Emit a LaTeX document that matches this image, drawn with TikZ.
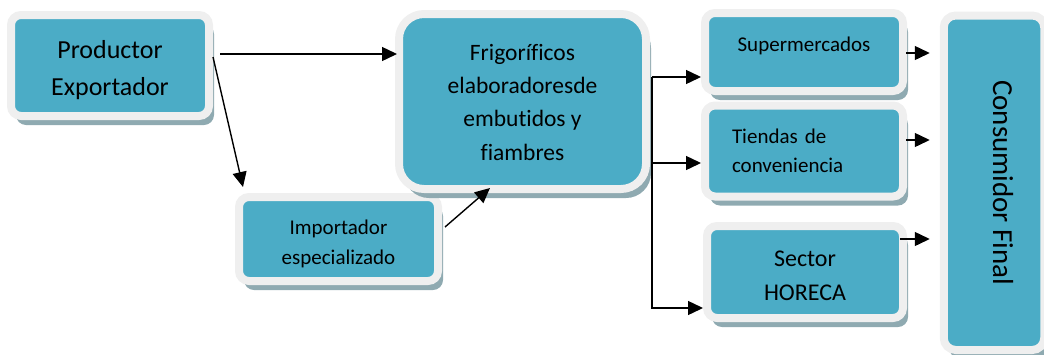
\documentclass[tikz,border=0pt]{standalone}
\usepackage{fontspec}
\setmainfont{Carlito}[Ligatures=NoCommon]
\usetikzlibrary{calc,arrows.meta,shadows}
\definecolor{azulcaja}{HTML}{4BACC6}
\definecolor{bordecaja}{HTML}{EFEFEF}
\definecolor{sombracaja}{HTML}{8FAAB1}
\newcommand{\lineas}[3][c]{\raisebox{#2}[\height][\depth]{\begin{tabular}{@{}#1@{}}#3\end{tabular}}}
\tikzset{
  caja/.style={draw=bordecaja,line width=8pt,fill=azulcaja,rounded corners=10pt,align=center,inner sep=0pt,
    general shadow={fill=sombracaja,shadow xshift=5pt,shadow yshift=-9pt}},
  flecha/.style={-{Triangle[length=15pt,width=14pt]},line width=1.4pt}
}
\begin{document}
\begin{tikzpicture}[x=1pt,y=-1pt]
    \useasboundingbox (0,0) rectangle (1044,354);
    % cajas
    \node[caja,minimum width=198pt,minimum height=101pt,font=\fontsize{26}{36.7}\selectfont] (prod) at (110,65.5) {\lineas{-4pt}{Productor\\Exportador}};
    \node[caja,minimum width=199pt,minimum height=84pt,font=\fontsize{21}{30}\selectfont] (impo) at (338.5,239) {\lineas{-4pt}{Importador\\especializado}};
    \node[caja,minimum width=247pt,minimum height=175pt,rounded corners=25pt,font=\fontsize{23.5}{33.3}\selectfont] (frigo) at (522.5,101.5) {\lineas{-2pt}{Frigoríficos\\elaboradoresde\\embutidos y\\fiambres}};
    \node[caja,minimum width=198pt,minimum height=78pt,font=\fontsize{21}{29}\selectfont] (super) at (804,52) {\lineas{6pt}{Supermercados}};
    \node[caja,minimum width=198pt,minimum height=91pt,text width=144pt,align=left,font=\fontsize{21}{29.4}\selectfont] (tiendas) at (804,151) {\lineas[l]{-1pt}{Tiendas de\\conveniencia}};
    \node[caja,minimum width=196pt,minimum height=92pt,font=\fontsize{24}{33.3}\selectfont] (horeca) at (805,272) {\lineas{-4.7pt}{Sector\\HORECA}};
    \node[caja,minimum width=100.5pt,minimum height=334.5pt,rounded corners=12pt,font=\fontsize{29}{35}\selectfont] (consu) at (994,182.75) {\hspace*{18pt}\rotatebox{-90}{Consumidor Final}};
    % flechas
    \draw[flecha] ([xshift=7pt,yshift=11.5pt]prod.east) coordinate (a) -- ([xshift=2pt]a -| frigo.west);
    \draw[flecha] ([yshift=8.5pt]prod.east) -- ([xshift=8pt,yshift=6pt]impo.north west);
    \draw[flecha] ([xshift=3pt,yshift=12pt]impo.east) -- ([xshift=-32.5pt,yshift=5pt]frigo.south);
    \coordinate (r1) at ([xshift=2pt,yshift=24.5pt]frigo.east);
    \draw[flecha] (r1) -- (r1 -| super.west);
    \draw[flecha] (r1) |- ([yshift=-12pt]tiendas.west);
    \draw[flecha] (r1) |- ([yshift=-36pt]horeca.west);
    \draw[flecha,shorten >=10pt] ([xshift=-1pt,yshift=-1pt]super.east) coordinate (b) -- (b -| consu.west);
    \draw[flecha,shorten >=10pt] ([xshift=-1pt,yshift=11pt]tiendas.east) coordinate (c) -- (c -| consu.west);
    \draw[flecha,shorten >=10pt] ([xshift=-7pt,yshift=33pt]horeca.east) coordinate (d) -- (d -| consu.west);
\end{tikzpicture}
\end{document}
